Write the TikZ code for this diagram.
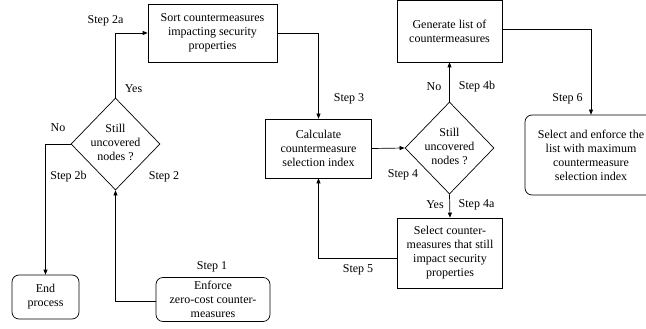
\documentclass[tikz,border=0pt]{standalone}
\usepackage{fontspec}
\setmainfont{Liberation Serif}
\usetikzlibrary{arrows.meta,shapes.geometric}
\begin{document}
\begin{tikzpicture}[x=1pt,y=-1pt,
 box/.style={draw,line width=0.7pt,align=center,inner sep=0pt,font=\fontsize{12}{14}\selectfont},
 rbox/.style={box,rounded corners=7pt},
 dia/.style={draw,diamond,line width=0.7pt,inner sep=0pt,minimum width=89pt,minimum height=92pt},
 lab/.style={font=\fontsize{12}{14}\selectfont,inner sep=0pt,align=center},
 arr/.style={line width=0.7pt,-{Triangle[length=5pt,width=4pt]}}]
\useasboundingbox (0,0) rectangle (646,329);
\node[box,minimum width=129pt,minimum height=58pt] (sort) at (212.5,33) {Sort countermeasures\\impacting security\\properties};
\node[dia] (d1) at (115.5,144) {};
\node[lab] (d1t) at (115.5,142) {Still\\uncovered\\nodes ?};
\node[rbox,minimum width=67pt,minimum height=44pt] (end) at (45.5,297) {End\\process};
\node[rbox,minimum width=114pt,minimum height=44pt] (s1) at (213,299.5) {Enforce\\zero-cost counter-\\measures};
\node[box,minimum width=106pt,minimum height=59pt] (calc) at (318.5,148.5) {Calculate\\countermeasure\\selection index};
\node[dia] (d2) at (449.5,148) {};
\node[lab] (d2t) at (449.5,146) {Still\\uncovered\\nodes ?};
\node[box,minimum width=105pt,minimum height=62pt] (gen) at (449.5,31) {Generate list of\\countermeasures};
\node[rbox,minimum width=132pt,minimum height=80pt] (fin) at (591,155) {Select and enforce the\\list with maximum\\countermeasure\\selection index};
\node[box,minimum width=105pt,minimum height=70pt] (sel) at (450,253) {Select counter-\\measures that still\\impact security\\properties};
\draw[arr] (d1.north) |- (sort.west);
\draw[arr] (d1.west) -| (end.north);
\draw[arr] ([yshift=-2pt]s1.west) -| (d1.south);
\draw[arr] (sort.east) -| (calc.north);
\draw[arr] (calc.east) -- (d2.west);
\draw[arr] (d2.north) -- (gen.south);
\draw[arr] ([yshift=2pt]gen.east) -| (fin.north);
\draw[arr] (d2.south) -- (sel.north);
\draw[arr] ([yshift=-5pt]sel.west) -| (calc.south);
\node[lab] (l2a) at (105.5,21) {Step 2a};
\node[lab] (ly1) at (133.5,89) {Yes};
\node[lab] (ln1) at (58,128) {No};
\node[lab] (l2b) at (68.5,177) {Step 2b};
\node[lab] (l2) at (164,177) {Step 2};
\node[lab] (l1) at (212,267) {Step 1};
\node[lab] (l3) at (349,99) {Step 3};
\node[lab] (ln2) at (434,87) {No};
\node[lab] (l4b) at (477,87) {Step 4b};
\node[lab] (l6) at (567.5,99) {Step 6};
\node[lab] (l4) at (403,175) {Step 4};
\node[lab] (ly2) at (435,205) {Yes};
\node[lab] (l4a) at (476.5,205) {Step 4a};
\node[lab] (l5) at (358,270) {Step 5};
\end{tikzpicture}
\end{document}
